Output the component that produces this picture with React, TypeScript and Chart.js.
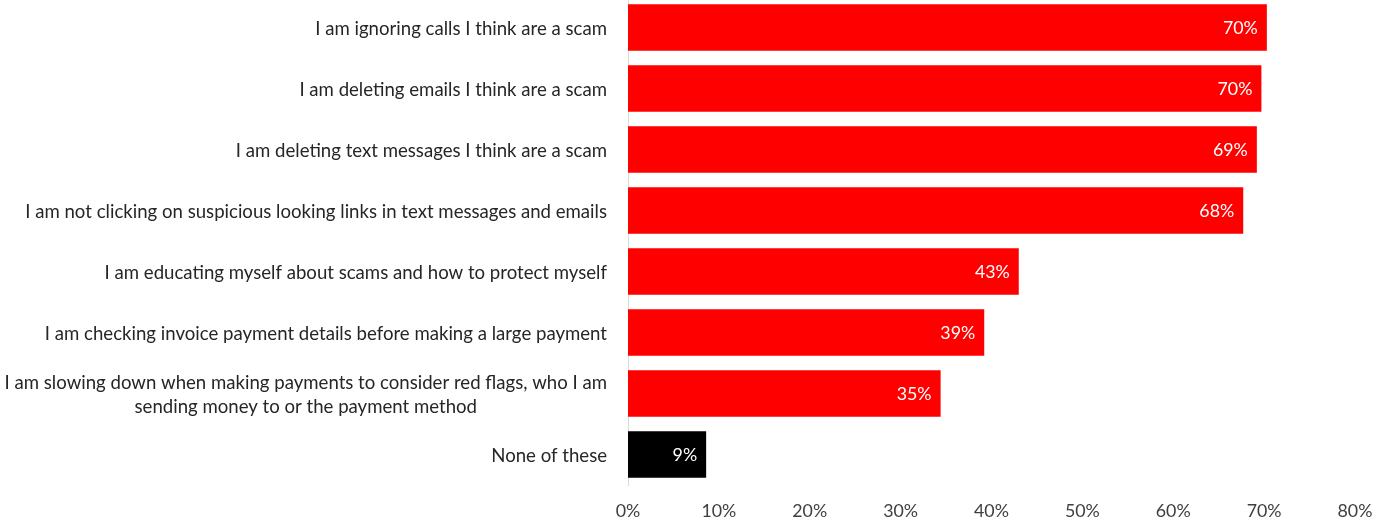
import React, { useEffect, useRef } from "react";
import { Chart, registerables } from "chart.js";

Chart.register(...registerables);

const categories: string[][] = [
  ["I am ignoring calls I think are a scam"],
  ["I am deleting emails I think are a scam"],
  ["I am deleting text messages I think are a scam"],
  ["I am not clicking on suspicious looking links in text messages and emails"],
  ["I am educating myself about scams and how to protect myself"],
  ["I am checking invoice payment details before making a large payment"],
  ["I am slowing down when making payments to consider red flags, who I am", "sending money to or the payment method"],
  ["None of these"],
];
const values: number[] = [70.3, 69.7, 69.2, 67.7, 43.0, 39.2, 34.4, 8.6];
const valueLabels: string[] = ["70%", "70%", "69%", "68%", "43%", "39%", "35%", "9%"];
const barColors: string[] = ["#ff0000", "#ff0000", "#ff0000", "#ff0000", "#ff0000", "#ff0000", "#ff0000", "#000000"];
const xTicks: number[] = [0, 10, 20, 30, 40, 50, 60, 70, 80];

const FONT = "Lato, 'Source Sans Pro', sans-serif";
const FS_Y = 18.6;
const FS = 17.8;

const labelPlugin = {
  id: "customLabels",
  afterDraw(chart: any) {
    const ctx = chart.ctx;
    const y = chart.scales.y;
    const meta = chart.getDatasetMeta(0);
    ctx.save();
    ctx.textBaseline = "middle";
    const right = chart.chartArea.left - 21;
    categories.forEach((lines, i) => {
      const cy = y.getPixelForValue(i);
      ctx.font = `${FS_Y}px ${FONT}`;
      ctx.fillStyle = "#262626";
      if (lines.length === 1) {
        ctx.textAlign = "right";
        ctx.fillText(lines[0], right, cy + 1);
      } else {
        const widths = lines.map((l) => ctx.measureText(l).width);
        const maxW = Math.max(...widths);
        const cx = right - maxW / 2;
        ctx.textAlign = "center";
        const lh = 24;
        lines.forEach((l, j) => {
          ctx.fillText(l, cx, cy + 1 + (j - (lines.length - 1) / 2) * lh);
        });
      }
      const bar = meta.data[i];
      ctx.font = `${FS}px ${FONT}`;
      ctx.fillStyle = "#ffffff";
      ctx.textAlign = "right";
      ctx.fillText(valueLabels[i], bar.x - 9, cy + 1);
    });
    ctx.restore();
  },
};

export default function App() {
  const ref = useRef<HTMLCanvasElement | null>(null);
  useEffect(() => {
    if (!ref.current) return;
    const chart = new Chart(ref.current, {
      type: "bar",
      data: {
        labels: categories.map((c) => c.join(" ")),
        datasets: [
          {
            data: values,
            backgroundColor: barColors,
            borderWidth: 0,
            categoryPercentage: 1,
            barPercentage: 0.76,
          },
        ],
      },
      options: {
        indexAxis: "y",
        animation: false,
        responsive: false,
        maintainAspectRatio: false,
        layout: { padding: { top: 0, right: 35, bottom: 0, left: 0 } },
        plugins: { legend: { display: false }, tooltip: { enabled: false } },
        scales: {
          x: {
            min: 0,
            max: 80,
            afterBuildTicks: (s: any) => {
              s.ticks = xTicks.map((v) => ({ value: v }));
            },
            grid: { display: false, drawTicks: false },
            border: { display: false },
            ticks: {
              padding: 16,
              color: "#404040",
              font: { family: FONT, size: FS },
              callback: (v: any) => `${v}%`,
              maxRotation: 0,
              autoSkip: false,
            },
            afterFit: (s: any) => {
              s.height = 40;
            },
          },
          y: {
            grid: { display: false, drawTicks: false },
            border: { display: true, color: "#d9d9d9", width: 1 },
            ticks: { display: false },
            afterFit: (s: any) => {
              s.width = 628;
            },
          },
        },
      },
      plugins: [labelPlugin],
    });
    return () => chart.destroy();
  }, []);
  return (
    <div style={{ position: "absolute", left: 0, top: -3, width: 1390, height: 528 }}>
      <canvas ref={ref} width={1390} height={528} style={{ display: "block" }} />
    </div>
  );
}
